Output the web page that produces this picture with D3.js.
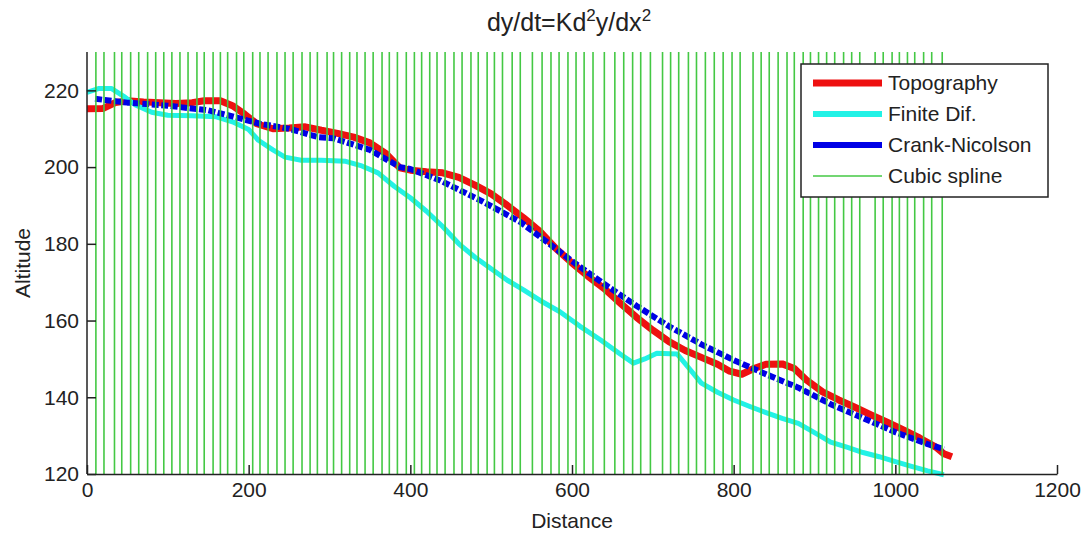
<!DOCTYPE html>
<html>
<head>
<meta charset="utf-8">
<script src="https://cdn.jsdelivr.net/npm/d3@7"></script>
<style>
  body { margin: 0; background: #fff; }
  svg { font-family: "Liberation Sans", Arial, sans-serif; }
</style>
</head>
<body>
<div id="chart"></div>
<script>
// distances where the cubic spline was evaluated (green verticals)
const splineX = [11, 21, 34, 43, 54, 64, 75, 85, 95, 105, 115, 125, 136, 145, 156, 165, 174, 185, 194, 205,
  214, 224, 235, 245, 255, 266, 276, 285, 297, 305, 315, 325, 334, 344, 354, 365, 374, 384, 395, 405,
  414, 424, 433, 443, 454, 464, 475, 484, 495, 504, 514, 526, 536, 551, 563, 574, 584, 595, 605, 615,
  626, 640, 653, 664, 675, 685, 697, 712, 722, 732, 744, 754, 765, 776, 787, 798, 808, 824, 834, 844,
  855, 866, 875, 886, 895, 905, 915, 925, 936, 946, 956, 975, 985, 996, 1005, 1015, 1024, 1035, 1045, 1058];

// Topography
const topoX = [0, 20, 35, 50, 70, 90, 110, 130, 145, 165, 180, 195, 210, 230, 250, 270, 290, 310, 330, 350,
  370, 387, 400, 420, 440, 460, 480, 500, 520, 540, 560, 580, 600, 620, 640, 660, 680, 700, 720, 740,
  760, 780, 795, 810, 825, 840, 860, 875, 890, 910, 930, 950, 970, 990, 1010, 1030, 1050, 1060, 1070];
const topoY = [215.2, 215.3, 216.8, 217.3, 217, 216.8, 216.6, 216.8, 217.3, 217.3, 216, 213.8, 211.3, 210, 210.2, 210.5, 209.6, 208.8, 207.8, 206.3,
  203.5, 199.8, 199.2, 198.8, 198.5, 197.3, 195.3, 193, 190, 186.8, 183.3, 178.8, 175, 171.5, 168.3, 164.5, 160.8, 157.5, 154.5, 152.2,
  150.4, 148.6, 146.8, 146, 147.5, 148.6, 148.7, 147.5, 144.5, 141.4, 139.3, 137.4, 135.4, 133.5, 131.5, 129.4, 127, 125.3, 124.5];

// Finite differences
const fdX = [0, 15, 30, 45, 60, 80, 100, 130, 160, 180, 200, 212, 230, 245, 265, 290, 320, 340, 360, 380,
  400, 420, 440, 460, 480, 500, 520, 540, 560, 585, 610, 635, 660, 676, 690, 705, 730, 745, 760, 780,
  800, 820, 840, 860, 880, 900, 920, 940, 960, 980, 1000, 1020, 1040, 1060];
const fdY = [219.5, 220.5, 220.5, 218.5, 216.2, 214.3, 213.5, 213.4, 213.1, 211.8, 209.8, 207, 204.5, 202.6, 201.8, 201.8, 201.5, 200.3, 198.5, 195,
  192, 188.5, 184.5, 180, 176.5, 173.5, 170.5, 168, 165.3, 162.3, 158.5, 155, 151.2, 148.9, 150, 151.5, 151.3, 147.5, 143.7, 141.3,
  139.3, 137.6, 136, 134.5, 133.2, 130.8, 128.3, 127, 125.6, 124.5, 123.2, 122, 120.8, 119.8];

// Crank-Nicolson
const cnX = [10, 50, 100, 150, 180, 214, 250, 286, 305, 350, 387, 400, 437, 486, 536, 577, 600, 640, 680, 720,
  760, 800, 840, 880, 920, 960, 1000, 1040, 1060];
const cnY = [217.8, 216.8, 216, 214.8, 213.2, 211.3, 210, 207.8, 207.5, 204.5, 200, 199.5, 196.5, 191.4, 185.7, 179.2, 175.5, 169.5, 163.8, 158.5,
  153.8, 149.7, 146, 142.5, 138.2, 134.6, 130.9, 127.8, 126.5];

const xTicks = [0, 200, 400, 600, 800, 1000, 1200];
const yTicks = [120, 140, 160, 180, 200, 220];
const legendNames = ["Topography", "Finite Dif.", "Crank-Nicolson", "Cubic spline"];

const width = 1082, height = 535;
const margin = { top: 52, right: 25, bottom: 61, left: 87 };

const svg = d3.select("#chart").append("svg")
  .attr("width", width)
  .attr("height", height);

svg.append("rect").attr("width", width).attr("height", height).attr("fill", "#fff");

const x = d3.scaleLinear().domain([0, 1200]).range([margin.left, width - margin.right]);
const y = d3.scaleLinear().domain([120, 230]).range([height - margin.bottom, margin.top]);

const line = d3.line().x(d => x(d[0])).y(d => y(d[1]));

// curves
const series = [
  { xs: topoX, ys: topoY, color: "#ee1010", w: 7, dash: null },
  { xs: fdX, ys: fdY, color: "#22f2e6", w: 5, dash: null },
  { xs: cnX, ys: cnY, color: "#0000e6", w: 6, dash: "7,2.5" }
];
series.forEach(s => {
  svg.append("path")
    .datum(s.xs.map((v, i) => [v, s.ys[i]]))
    .attr("fill", "none")
    .attr("stroke", s.color)
    .attr("stroke-width", s.w)
    .attr("stroke-dasharray", s.dash)
    .attr("stroke-linejoin", "round")
    .attr("d", line);
});

// cubic spline verticals
svg.append("g").selectAll("line")
  .data(splineX)
  .enter().append("line")
  .attr("x1", d => x(d)).attr("x2", d => x(d))
  .attr("y1", y(230)).attr("y2", y(120))
  .attr("stroke", "#44c844")
  .attr("stroke-width", 1.6);

// axes
const fmt = d3.format("d");
const xAxis = svg.append("g")
  .attr("transform", `translate(0,${y(120)})`)
  .call(d3.axisBottom(x).tickValues(xTicks).tickFormat(fmt).tickSize(-9).tickPadding(8).tickSizeOuter(0));
const yAxis = svg.append("g")
  .attr("transform", `translate(${x(0)},0)`)
  .call(d3.axisLeft(y).tickValues(yTicks).tickFormat(fmt).tickSize(-9).tickPadding(8).tickSizeOuter(0));
[xAxis, yAxis].forEach(a => {
  a.select(".domain").attr("stroke", "#222").attr("stroke-width", 1.5);
  a.selectAll(".tick line").attr("stroke", "#222").attr("stroke-width", 1.5);
  a.selectAll("text").attr("font-size", 21).attr("fill", "#222")
    .attr("font-family", "'Liberation Sans', Arial, sans-serif");
});
yAxis.select(".domain").attr("d", `M0,${y(230)}V${y(120)}`);

// labels
svg.append("text")
  .attr("x", (x(0) + x(1200)) / 2).attr("y", 528)
  .attr("text-anchor", "middle").attr("font-size", 21).attr("fill", "#222")
  .text("Distance");
svg.append("text")
  .attr("transform", `translate(30,${(y(120) + y(230)) / 2}) rotate(-90)`)
  .attr("text-anchor", "middle").attr("font-size", 21).attr("fill", "#222")
  .text("Altitude");

const title = svg.append("text")
  .attr("x", 569).attr("y", 31)
  .attr("text-anchor", "middle").attr("font-size", 25).attr("fill", "#222");
title.append("tspan").text("dy/dt=Kd");
title.append("tspan").attr("font-size", 17).attr("dy", -10).text("2");
title.append("tspan").attr("dy", 10).text("y/dx");
title.append("tspan").attr("font-size", 17).attr("dy", -10).text("2");

// legend
const lg = svg.append("g");
lg.append("rect")
  .attr("x", 801).attr("y", 64).attr("width", 247).attr("height", 133)
  .attr("fill", "#fff").attr("stroke", "#222").attr("stroke-width", 1.5);
const legendStyle = [
  { color: "#ee1010", w: 7 },
  { color: "#22f2e6", w: 6 },
  { color: "#0000e6", w: 6 },
  { color: "#44c844", w: 1.6 }
];
legendNames.forEach((name, i) => {
  const cy = 83 + i * 31;
  lg.append("line")
    .attr("x1", 813).attr("x2", 882).attr("y1", cy).attr("y2", cy)
    .attr("stroke", legendStyle[i].color).attr("stroke-width", legendStyle[i].w);
  lg.append("text")
    .attr("x", 888).attr("y", cy + 7)
    .attr("font-size", 21).attr("fill", "#222")
    .text(name);
});
</script>
</body>
</html>
